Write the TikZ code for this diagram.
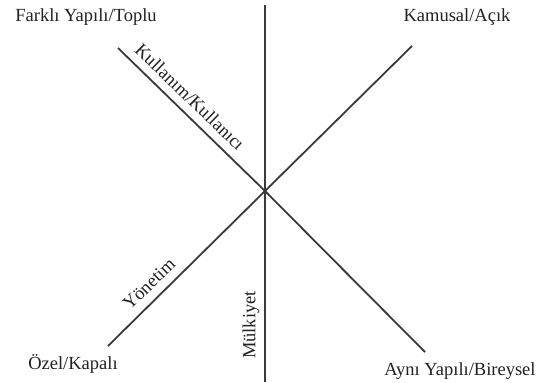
\documentclass[tikz,border=0pt]{standalone}
\usepackage{fontspec}
\setmainfont{Liberation Serif}
\definecolor{axis}{HTML}{3A3A3A}
\definecolor{txt}{HTML}{222222}
\begin{document}
\begin{tikzpicture}[x=1pt,y=-1pt,
  axisline/.style={draw=axis,line width=1.8pt},
  lbl/.style={text=txt,font=\fontsize{18.5}{20}\selectfont,inner sep=0pt},
]
\useasboundingbox[fill=white] (0,0) rectangle (544,383);
% coordinates
\coordinate (c) at (265,191);
\coordinate (vt) at (265,5);
\coordinate (vb) at (265,382);
\coordinate (ul) at (118,48);
\coordinate (lr) at (425,352);
\coordinate (ur) at (412,46);
\coordinate (ll) at (108,346);
% axes
\draw[axisline] (vt) -- (vb);
\draw[axisline] (ul) -- (c) -- (lr);
\draw[axisline] (ll) -- (c) -- (ur);
% corner labels
\node[lbl] (farkli) at (86,17) {Farklı Yapılı/Toplu};
\node[lbl] (kamusal) at (457,17) {Kamusal/Açık};
\node[lbl] (ozel) at (73,364) {Özel/Kapalı};
\node[lbl] (ayni) at (460,371) {Aynı Yapılı/Bireysel};
% axis labels
\node[lbl,rotate=-44] (kullanim) at (190,97) {Kullanım/Kullanıcı};
\node[lbl,rotate=44] (yonetim) at (149,284) {Yönetim};
\node[lbl,rotate=90] (mulkiyet) at (251,325) {Mülkiyet};
\end{tikzpicture}
\end{document}
